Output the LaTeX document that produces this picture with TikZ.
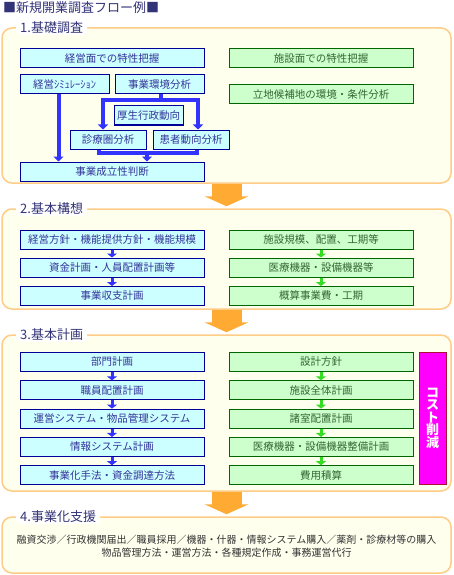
\documentclass[tikz,border=0pt]{standalone}
\usepackage{fontspec}
\setmainfont{Noto Sans CJK JP}
\usetikzlibrary{arrows.meta}
\definecolor{secline}{HTML}{FFCC88}
\definecolor{secfill}{HTML}{FFFFEE}
\definecolor{labeltext}{HTML}{333377}
\definecolor{bluedraw}{HTML}{000099}
\definecolor{bluefill}{HTML}{CCFFFF}
\definecolor{bluetext}{HTML}{333399}
\definecolor{greendraw}{HTML}{006600}
\definecolor{greenfill}{HTML}{CCFFCC}
\definecolor{greentext}{HTML}{336633}
\definecolor{bluearrow}{HTML}{3333FF}
\definecolor{greenarrow}{HTML}{33DD22}
\definecolor{orangearrow}{HTML}{FFAA33}
\definecolor{costfill}{HTML}{FF00FF}
\definecolor{costdraw}{HTML}{AA1133}
\begin{document}
\begin{tikzpicture}[x=1pt,y=-1pt,
  section/.style={draw=secline, fill=secfill, line width=1.5pt, rounded corners=10pt, minimum width=449pt, inner sep=0pt},
  seclabel/.style={fill=white, rounded corners=4pt, text=labeltext, font=\fontsize{13pt}{14pt}\selectfont, inner xsep=4pt, inner ysep=1pt, anchor=west},
  bluebox/.style={draw=bluedraw, fill=bluefill, text=bluetext, line width=1pt, minimum width=184pt, minimum height=19pt, inner sep=0pt, font=\fontsize{10.5pt}{12pt}\selectfont},
  greenbox/.style={bluebox, draw=greendraw, fill=greenfill, text=greentext},
  thickline/.style={draw=bluearrow, line width=4pt},
  thickarrow/.style={thickline, -{Triangle[width=10pt,length=5pt]}},
  smallblue/.style={draw=bluearrow, line width=3pt, -{Triangle[width=10pt,length=4pt]}},
  smallgreen/.style={smallblue, draw=greenarrow},
  stagearrow/.style={draw=orangearrow, line width=30pt, -{Triangle[width=44pt,length=10pt]}, shorten >=2pt}
]
\useasboundingbox (0,0) rectangle (453,575);

\node[anchor=west, text=labeltext, inner sep=0pt, font=\fontsize{13pt}{14pt}\selectfont] (title) at (3,8) {■新規開業調査フロー例■};

% sections
\node[section, minimum height=155pt] (s1) at (226.5,105.5) {};
\node[section, minimum height=100pt] (s2) at (226.5,259) {};
\node[section, minimum height=156pt] (s3) at (226.5,413) {};
\node[section, minimum height=56pt] (s4) at (226.5,545) {};
\node[seclabel] (l1) at (16,28) {1.基礎調査};
\node[seclabel] (l2) at (16,209) {2.基本構想};
\node[seclabel] (l3) at (16,335) {3.基本計画};
\node[seclabel] (l4) at (16,517) {4.事業化支援};

\draw[stagearrow] (s1.south) -- (s2.north);
\draw[stagearrow] (s2.south) -- (s3.north);
\draw[stagearrow] (s3.south) -- (s4.north);

% 1.基礎調査
\node[bluebox] (mgmt) at (112,58.5) {経営面での特性把握};
\node[bluebox, minimum width=89pt] (sim) at (64.5,84.5) {経営ｼﾐｭﾚｰｼｮﾝ};
\node[bluebox, minimum width=89pt] (env) at (159.5,84.5) {事業環境分析};
\node[bluebox, minimum width=69pt] (trend) at (148.5,115.5) {厚生行政動向};
\node[bluebox, minimum width=76pt] (area) at (108,139.5) {診療圏分析};
\node[bluebox, minimum width=76pt] (patient) at (191,139.5) {患者動向分析};
\node[bluebox] (judge) at (112,171.5) {事業成立性判断};
\node[greenbox] (fac) at (321,58.5) {施設面での特性把握};
\node[greenbox] (site) at (321,94.5) {立地候補地の環境・条件分析};

\coordinate (split) at (161,100);
\coordinate (merge) at (147,153);
\draw[thickarrow] ([xshift=-6pt]sim.south) -- ([xshift=-6pt]sim.south |- judge.north);
\draw[thickline] ([xshift=1.5pt]env.south) -- (split);
\draw[thickarrow] (split) -| ([xshift=-5pt]area.north);
\draw[thickarrow] (split) -| ([xshift=7pt]patient.north);
\draw[thickline] ([xshift=-9pt]area.south) |- (merge) -| ([xshift=6pt]patient.south);
\draw[thickarrow] (merge) -- (merge |- judge.north);

% 2.基本構想
\node[bluebox] (policy) at (112,240) {経営方針・機能提供方針・機能規模};
\node[bluebox] (fund) at (112,267.5) {資金計画・人員配置計画等};
\node[bluebox] (budget) at (112,296) {事業収支計画};
\node[greenbox] (scale) at (321,240) {施設規模、配置、工期等};
\node[greenbox] (equip) at (321,267.5) {医療機器・設備機器等};
\node[greenbox] (cost) at (321,296) {概算事業費・工期};
\draw[smallblue] (policy) -- (fund);
\draw[smallblue] (fund) -- (budget);
\draw[smallgreen] (scale) -- (equip);
\draw[smallgreen] (equip) -- (cost);

% 3.基本計画
\node[bluebox] (dept) at (112,362) {部門計画};
\node[bluebox] (staff) at (112,390.3) {職員配置計画};
\node[bluebox] (ops) at (112,418.6) {運営システム・物品管理システム};
\node[bluebox] (info) at (112,446.9) {情報システム計画};
\node[bluebox] (finance) at (112,475.2) {事業化手法・資金調達方法};
\node[greenbox] (design) at (321,362) {設計方針};
\node[greenbox] (whole) at (321,390.3) {施設全体計画};
\node[greenbox] (rooms) at (321,418.6) {諸室配置計画};
\node[greenbox] (devices) at (321,446.9) {医療機器・設備機器整備計画};
\node[greenbox] (estim) at (321,475.2) {費用積算};
\draw[smallblue] (dept) -- (staff);
\draw[smallblue] (staff) -- (ops);
\draw[smallblue] (ops) -- (info);
\draw[smallblue] (info) -- (finance);
\draw[smallgreen] (design) -- (whole);
\draw[smallgreen] (whole) -- (rooms);
\draw[smallgreen] (rooms) -- (devices);
\draw[smallgreen] (devices) -- (estim);
\node[draw=costdraw, fill=costfill, text=white, line width=1pt, minimum width=27pt, minimum height=132pt, inner sep=0pt, align=center, font=\fontsize{13pt}{12.5pt}\selectfont\bfseries] (reduce) at (432.5,418) {コ\\ス\\ト\\削\\減};

% 4.事業化支援
\node[align=center, text=black!80, font=\fontsize{10pt}{13pt}\selectfont] (support) at (226.5,546.5)
{融資交渉／行政機関届出／職員採用／機器・什器・情報システム購入／薬剤・診療材等の購入\\物品管理方法・運営方法・各種規定作成・事務運営代行};
\end{tikzpicture}
\end{document}
